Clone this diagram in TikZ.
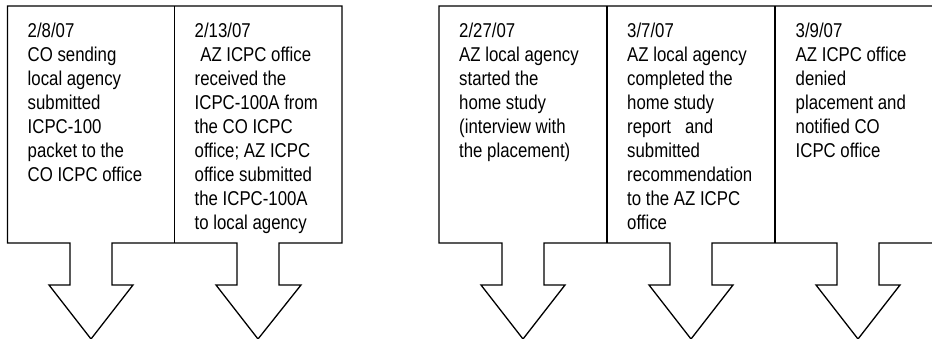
\documentclass[tikz,border=0pt]{standalone}
\usepackage{fontspec}
\setmainfont{Liberation Sans}[FakeStretch=0.84]
\begin{document}
\begin{tikzpicture}[x=1pt,y=-1pt,
  outline/.style={draw=black,line width=1.3pt,line join=miter},
  label/.style={anchor=north west,inner sep=0pt,align=left,
    font=\fontsize{20}{24}\selectfont}]
\useasboundingbox (0,0) rectangle (932,338);
% group 1
\draw[outline] (7.5,6) -- (342,6) -- (342,243)
  -- (279,243) -- (279,285) -- (301,285) -- (258,339) -- (216,285) -- (237,285) -- (237,243)
  -- (112,243) -- (112,285) -- (133,285) -- (91,339) -- (49,285) -- (70,285) -- (70,243)
  -- (7.5,243) -- cycle;
\draw[outline] (174.5,6) -- (174.5,243);
% group 2
\draw[outline] (943,6) -- (439,6) -- (439,243)
  -- (502,243) -- (502,285) -- (481,285) -- (523,339) -- (565,285) -- (544,285) -- (544,243)
  -- (670,243) -- (670,285) -- (649,285) -- (691,339) -- (733,285) -- (712,285) -- (712,243)
  -- (837,243) -- (837,285) -- (816,285) -- (858,339) -- (900,285) -- (879,285) -- (879,243)
  -- (943,243);
\draw[outline] (607,6) -- (607,243);
\draw[outline] (775,6) -- (775,243);
% texts
\node[label] (t1) at (27.5,22.5) {2/8/07\\CO sending\\local agency\\submitted\\ICPC-100\\packet to the\\CO ICPC office};
\node[label] (t2) at (194.5,22.5) {2/13/07\\\hspace{0.28em}AZ ICPC office\\received the\\ICPC-100A from\\the CO ICPC\\office; AZ ICPC\\office submitted\\the ICPC-100A\\to local agency};
\node[label] (t3) at (459,22.5) {2/27/07\\AZ local agency\\started the\\home study\\(interview with\\the placement)};
\node[label] (t4) at (627,22.5) {3/7/07\\AZ local agency\\completed the\\home study\\report\ \ \ and\\submitted\\recommendation\\to the AZ ICPC\\office};
\node[label] (t5) at (795.5,22.5) {3/9/07\\AZ ICPC office\\denied\\placement and\\notified CO\\ICPC office};
\end{tikzpicture}
\end{document}
